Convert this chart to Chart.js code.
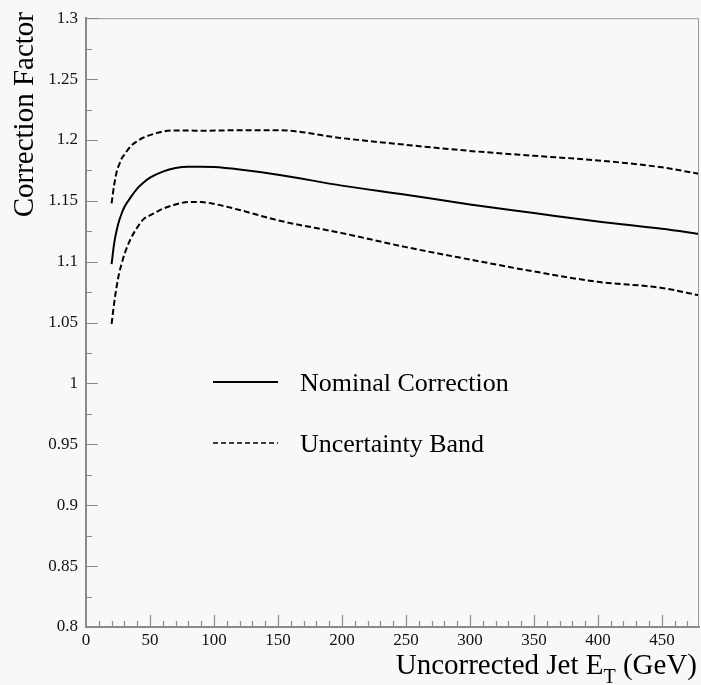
<!DOCTYPE html>
<html>
<head>
<meta charset="utf-8">
<script src="https://cdn.jsdelivr.net/npm/chart.js@4.4.1/dist/chart.umd.min.js"></script>
<style>
  html, body { margin: 0; padding: 0; background: #f8f8f8; }
  canvas { display: block; }
</style>
</head>
<body>
<canvas id="chart" width="701" height="685"></canvas>
<script>
// jet energy (GeV) and correction factors
const energy = [20, 22, 24, 26, 28, 30, 35, 40, 45, 50, 60, 70, 80, 90, 100, 120, 150, 200, 250, 300, 350, 400, 450, 480];
const nominal = [1.098, 1.115, 1.126, 1.134, 1.140, 1.145, 1.153, 1.160, 1.165, 1.169, 1.174, 1.177, 1.178, 1.178, 1.1777, 1.1757, 1.1715, 1.1625, 1.155, 1.147, 1.140, 1.133, 1.127, 1.1227];
const upperBand = [1.148, 1.163, 1.174, 1.180, 1.185, 1.188, 1.195, 1.199, 1.202, 1.204, 1.207, 1.2078, 1.2078, 1.2075, 1.2077, 1.208, 1.208, 1.2015, 1.196, 1.191, 1.187, 1.1832, 1.1775, 1.172];
const lowerBand = [1.049, 1.066, 1.080, 1.091, 1.099, 1.106, 1.119, 1.128, 1.135, 1.138, 1.1435, 1.147, 1.149, 1.149, 1.1475, 1.1425, 1.134, 1.1235, 1.112, 1.1018, 1.092, 1.0835, 1.0785, 1.0722];

const xTickValues = [0, 50, 100, 150, 200, 250, 300, 350, 400, 450];
const yTickValues = [0.8, 0.85, 0.9, 0.95, 1, 1.05, 1.1, 1.15, 1.2, 1.25, 1.3];
const yTickLabels = ['0.8', '0.85', '0.9', '0.95', '1', '1.05', '1.1', '1.15', '1.2', '1.25', '1.3'];

const serif = '"Liberation Serif", "DejaVu Serif", serif';
const axisGrey = '#8a8a8a';

const points = ys => energy.map((e, i) => ({x: e, y: ys[i]}));

const frame = {
  id: 'frame',
  beforeDraw(chart) {
    const c = chart.ctx;
    c.save();
    c.fillStyle = '#f8f8f8';
    c.fillRect(0, 0, chart.width, chart.height);
    c.restore();
  },
  afterDraw(chart) {
    const c = chart.ctx;
    const {left, right, top, bottom} = chart.chartArea;
    const xs = chart.scales.x, ys = chart.scales.y;
    c.save();

    // top and right frame
    c.strokeStyle = '#9a9a9a';
    c.lineWidth = 1;
    c.beginPath();
    c.moveTo(left, top + 0.5);
    c.lineTo(right - 0.5, top + 0.5);
    c.lineTo(right - 0.5, bottom);
    c.stroke();

    // inward tick marks, majors every 50 / 0.05
    c.strokeStyle = axisGrey;
    c.lineWidth = 1.2;
    c.beginPath();
    for (let i = 1; i * 10 <= xs.max; i++) {
      const px = Math.round(xs.getPixelForValue(i * 10)) + 0.5;
      const len = i % 5 === 0 ? 12 : 6;
      c.moveTo(px, bottom);
      c.lineTo(px, bottom - len);
    }
    for (let i = 1; i <= 20; i++) {
      const py = Math.round(ys.getPixelForValue(0.8 + i * 0.025)) + 0.5;
      const len = i % 2 === 0 ? 12 : 6;
      c.moveTo(left, py);
      c.lineTo(left + len, py);
    }
    c.stroke();

    // axis titles
    c.fillStyle = '#000';
    c.font = '29px ' + serif;
    c.textBaseline = 'alphabetic';
    c.save();
    c.translate(33, 12);
    c.rotate(-Math.PI / 2);
    c.textAlign = 'right';
    c.fillText('Correction Factor', 0, 0);
    c.restore();

    const main = 'Uncorrected Jet E', sub = 'T', tail = ' (GeV)';
    c.font = '29px ' + serif;
    const wMain = c.measureText(main).width, wTail = c.measureText(tail).width;
    c.font = '20px ' + serif;
    const wSub = c.measureText(sub).width;
    let x = 697 - (wMain + wSub + wTail);
    c.textAlign = 'left';
    c.font = '29px ' + serif;
    c.fillText(main, x, 674);
    x += wMain;
    c.font = '20px ' + serif;
    c.fillText(sub, x, 683);
    x += wSub;
    c.font = '29px ' + serif;
    c.fillText(tail, x, 674);

    // legend
    c.strokeStyle = '#000';
    c.lineWidth = 2;
    c.beginPath();
    c.moveTo(213, 382);
    c.lineTo(278, 382);
    c.stroke();
    c.setLineDash([5, 3]);
    c.lineWidth = 1.6;
    c.beginPath();
    c.moveTo(213, 443);
    c.lineTo(278, 443);
    c.stroke();
    c.setLineDash([]);
    c.font = '26px ' + serif;
    c.fillText('Nominal Correction', 300, 391);
    c.fillText('Uncertainty Band', 300, 452);

    c.restore();
  }
};

const lineStyle = {
  borderColor: '#000',
  backgroundColor: '#000',
  pointRadius: 0,
  fill: false,
  cubicInterpolationMode: 'monotone'
};

new Chart(document.getElementById('chart').getContext('2d'), {
  type: 'line',
  data: {
    datasets: [
      {...lineStyle, label: 'Nominal Correction', data: points(nominal), borderWidth: 2},
      {...lineStyle, label: 'Uncertainty Band', data: points(upperBand), borderWidth: 2, borderDash: [6, 3]},
      {...lineStyle, label: 'Uncertainty Band (low)', data: points(lowerBand), borderWidth: 2, borderDash: [6, 3]}
    ]
  },
  options: {
    responsive: false,
    animation: false,
    layout: {padding: {top: 13, right: 2, left: 0, bottom: 0}},
    plugins: {legend: {display: false}, tooltip: {enabled: false}},
    scales: {
      x: {
        type: 'linear',
        min: 0,
        max: 479,
        afterBuildTicks: s => { s.ticks = xTickValues.map(v => ({value: v})); },
        afterFit: s => { s.height = 58; },
        grid: {display: false, drawTicks: false},
        border: {display: true, color: axisGrey, width: 2},
        ticks: {
          padding: 3,
          maxRotation: 0,
          autoSkip: false,
          color: '#111',
          font: {family: serif, size: 17}
        }
      },
      y: {
        type: 'linear',
        min: 0.8,
        max: 1.3,
        afterBuildTicks: s => { s.ticks = yTickValues.map(v => ({value: v})); },
        afterFit: s => { s.width = 86; },
        grid: {display: false, drawTicks: false},
        border: {display: true, color: axisGrey, width: 2},
        ticks: {
          padding: 8,
          autoSkip: false,
          color: '#111',
          font: {family: serif, size: 17},
          callback: (v, i) => yTickLabels[i]
        }
      }
    }
  },
  plugins: [frame]
});
</script>
</body>
</html>
